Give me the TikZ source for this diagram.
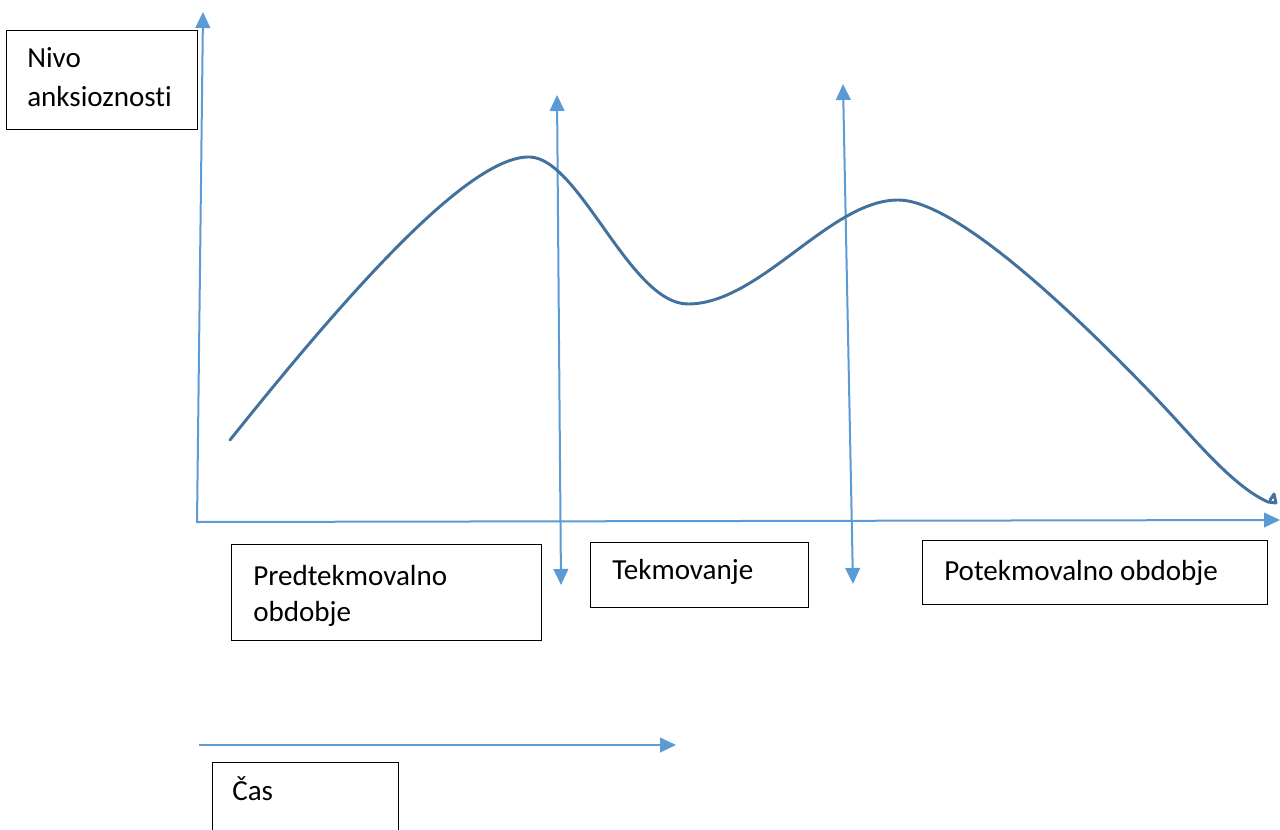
\documentclass[tikz,border=0pt]{standalone}
\usepackage{fontspec}
\setmainfont{Carlito}[Ligatures=NoCommon]
\usetikzlibrary{arrows.meta}
\definecolor{axisblue}{HTML}{5B9BD5}
\definecolor{curveblue}{HTML}{41719C}
\tikzset{
  axis/.style={draw=axisblue, line width=1.5pt, -{Triangle[length=12pt,width=11pt]}},
  dbl/.style={draw=axisblue, line width=1.5pt, {Triangle[length=12pt,width=11pt]}-{Triangle[length=12pt,width=11pt]}},
  box/.style={draw=black, line width=1.1pt, rectangle, inner sep=0pt, anchor=north west},
  txt/.style={font=\fontsize{21.8}{29}\selectfont, inner sep=0pt, anchor=base west, align=left},
  curve/.style={draw=curveblue, line width=2.2pt, line join=round, line cap=round}
}
\begin{document}
\begin{tikzpicture}[x=0.75pt,y=-0.75pt]
\useasboundingbox (0,0) rectangle (1280,830);
% boxes
\node[box, minimum width=191*0.75pt, minimum height=99*0.75pt] (nivobox) at (6,30) {};
\node[txt] (nivo) at (27,68) {Nivo};
\node[txt] (anks) at (27,107) {anksioznosti};
\node[box, minimum width=310*0.75pt, minimum height=96*0.75pt] (prebox) at (231,544) {};
\node[txt] (pre1) at (253,585) {Predtekmovalno};
\node[txt] (pre2) at (253,621) {obdobje};
\node[box, minimum width=218*0.75pt, minimum height=65*0.75pt] (tekbox) at (590,542) {};
\node[txt] (tek) at (612,579) {Tekmovanje};
\node[box, minimum width=345*0.75pt, minimum height=64*0.75pt] (postbox) at (922,540) {};
\node[txt] (post) at (944,580) {Potekmovalno obdobje};
\node[box, minimum width=186*0.75pt, minimum height=80*0.75pt] (casbox) at (212,762) {};
\node[txt] (cas) at (232,800) {Čas};
% axes
\coordinate (o) at (197,523);
\coordinate (ytop) at (203,12);
\coordinate (xo) at (198,522);
\coordinate (xend) at (1280,520);
\draw[axis] (o) -- (ytop);
\draw[axis] (xo) -- (xend);
% vertical double arrows
\coordinate (a1t) at (557,95);
\coordinate (a1b) at (561,585);
\coordinate (a2t) at (843,84);
\coordinate (a2b) at (853,584);
\draw[dbl] (a1b) -- (a1t);
\draw[dbl] (a2b) -- (a2t);
% time arrow
\coordinate (ts) at (199,745);
\coordinate (te) at (676,745);
\draw[axis] (ts) -- (te);
% curve
\draw[curve] (230,440) .. controls (350,290) and (470,155) .. (530,157)
 .. controls (580,159) and (630,304) .. (688,304)
 .. controls (760,304) and (830,200) .. (898,200)
 .. controls (960,200) and (1090,330) .. (1150,392)
 .. controls (1190,433) and (1230,485) .. (1268,502)
 -- (1276,503) -- (1274,494) -- (1270,500);
\end{tikzpicture}
\end{document}
